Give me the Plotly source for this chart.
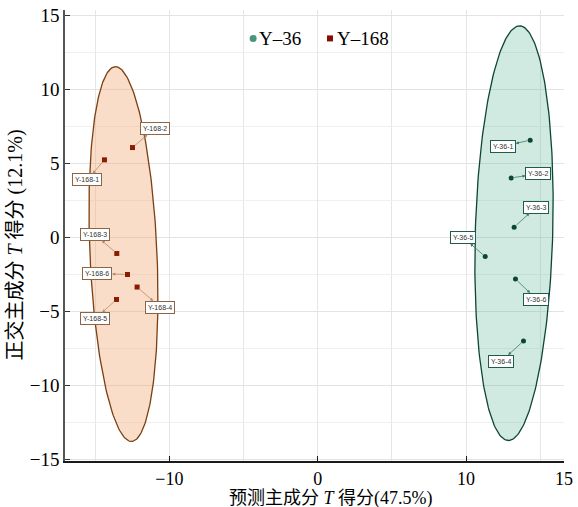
import numpy as np
import plotly.graph_objects as go

# ---------------- data ----------------
groups = ["Y-36", "Y-168"]
legend_names = ["Y–36", "Y–168"]

y36_labels = ["Y-36-1", "Y-36-2", "Y-36-3", "Y-36-4", "Y-36-5", "Y-36-6"]
y36_t = [14.32, 13.04, 13.24, 13.87, 11.29, 13.33]
y36_to = [6.57, 4.02, 0.69, -7.01, -1.30, -2.82]

y168_labels = ["Y-168-1", "Y-168-2", "Y-168-3", "Y-168-4", "Y-168-5", "Y-168-6"]
y168_t = [-14.37, -12.48, -13.54, -12.17, -13.56, -12.82]
y168_to = [5.24, 6.07, -1.09, -3.36, -4.20, -2.51]

# confidence ellipses: centre (t, to), semi-major, semi-minor, major-axis angle (deg)
y36_ellipse = [13.23, 0.28, 14.02, 2.61, 88.4]
y168_ellipse = [-13.09, -1.13, 12.68, 2.26, 92.5]

x_tickvals = [-10, 0, 10, 16.6]
x_ticktext = ["−10", "0", "10", "15"]
y_tickvals = [-15, -10, -5, 0, 5, 10, 15]

x_title = "预测主成分 <i>T</i> 得分(47.5%)"
y_title = "正交主成分 <i>T</i> 得分 (12.1%)"

# label offsets in pixels (label centre relative to point)
y36_offsets = [(-27, 6), (27, -4), (22, -20), (-22, 20), (-22, -19), (21, 20)]
y168_offsets = [(-17, 20), (22, -19), (-22, -19), (23, 20), (-21, 19), (-30, -1)]

# ---------------- styles ----------------
pt_color = {"Y-36": "#0b4635", "Y-168": "#8a1c02"}
leg_color = {"Y-36": "#4a9580", "Y-168": "#8b0a00"}
ell_fill = {"Y-36": "rgba(100,185,155,0.30)", "Y-168": "rgba(240,170,120,0.40)"}
ell_line = {"Y-36": "#0d4536", "Y-168": "#7b3f12"}
lab_border = {"Y-36": "#1f5c4a", "Y-168": "#8c6446"}
arrow_col = {"Y-36": "#3d7a66", "Y-168": "#b48a6a"}

SERIF = "Liberation Serif, Noto Sans CJK SC, serif"

fig = go.Figure()


def ellipse_xy(p, n=240):
    cx, cy, a, b, ang = p
    th = np.deg2rad(ang)
    t = np.linspace(0, 2 * np.pi, n)
    x = cx + a * np.cos(t) * np.cos(th) - b * np.sin(t) * np.sin(th)
    y = cy + a * np.cos(t) * np.sin(th) + b * np.sin(t) * np.cos(th)
    return x, y


for g, p in (("Y-168", y168_ellipse), ("Y-36", y36_ellipse)):
    ex, ey = ellipse_xy(p)
    fig.add_trace(go.Scatter(x=ex, y=ey, mode="lines", fill="toself",
                             fillcolor=ell_fill[g],
                             line=dict(color=ell_line[g], width=1.3),
                             hoverinfo="skip", showlegend=False))

fig.add_trace(go.Scatter(x=y36_t, y=y36_to, mode="markers", name="Y-36",
                         marker=dict(symbol="circle", size=5, color=pt_color["Y-36"]),
                         showlegend=False))
fig.add_trace(go.Scatter(x=y168_t, y=y168_to, mode="markers", name="Y-168",
                         marker=dict(symbol="square", size=5, color=pt_color["Y-168"]),
                         showlegend=False))

for g, labs, xs, ys, offs in (("Y-36", y36_labels, y36_t, y36_to, y36_offsets),
                              ("Y-168", y168_labels, y168_t, y168_to, y168_offsets)):
    for lab, xv, yv, (dx, dy) in zip(labs, xs, ys, offs):
        fig.add_annotation(x=xv, y=yv, ax=dx, ay=dy, text=lab,
                           showarrow=True, arrowside="start",
                           startarrowhead=2, startarrowsize=0.8,
                           arrowwidth=0.8, arrowcolor=arrow_col[g],
                           standoff=3, startstandoff=0,
                           font=dict(family="Liberation Sans, Arial", size=7, color="#333"),
                           bgcolor="white", bordercolor=lab_border[g],
                           borderwidth=1, borderpad=2)

# manual legend
fig.add_shape(type="circle", xref="paper", yref="paper", xsizemode="pixel", ysizemode="pixel",
              xanchor=0.377, yanchor=0.937, x0=-3.5, x1=3.5, y0=-3.5, y1=3.5,
              fillcolor=leg_color["Y-36"], line=dict(width=0))
fig.add_annotation(xref="paper", yref="paper", x=0.385, y=0.937, text=legend_names[0],
                   showarrow=False, xanchor="left", yanchor="middle",
                   font=dict(family=SERIF, size=19, color="black"))
fig.add_shape(type="rect", xref="paper", yref="paper", xsizemode="pixel", ysizemode="pixel",
              xanchor=0.531, yanchor=0.937, x0=-3, x1=3, y0=-3, y1=3,
              fillcolor=leg_color["Y-168"], line=dict(width=0))
fig.add_annotation(xref="paper", yref="paper", x=0.541, y=0.937, text=legend_names[1],
                   showarrow=False, xanchor="left", yanchor="middle",
                   font=dict(family=SERIF, size=19, color="black"))

# axis titles
fig.add_annotation(xref="paper", yref="paper", x=0.533, y=-0.083, text=x_title,
                   showarrow=False, xanchor="center", yanchor="middle",
                   font=dict(family=SERIF, size=18, color="black"))
fig.add_annotation(xref="paper", yref="paper", x=-0.1, y=0.478, text=y_title,
                   showarrow=False, xanchor="center", yanchor="middle", textangle=-90,
                   font=dict(family=SERIF, size=20, color="black"))

fig.update_layout(
    width=578, height=507,
    margin=dict(l=65, r=14, t=10, b=46, autoexpand=False),
    paper_bgcolor="white", plot_bgcolor="white",
    showlegend=False,
    xaxis=dict(range=[-17.03, 16.6], tickvals=x_tickvals, ticktext=x_ticktext,
               automargin=False,
               showgrid=True, gridcolor="#e6e6e6", gridwidth=1,
               minor=dict(tickvals=[-15, -5, 5, 15], showgrid=True, gridcolor="#e6e6e6", ticks=""),
               zeroline=False, showline=True, linecolor="#1a1a1a", linewidth=2,
               ticks="inside", ticklen=5, tickcolor="#1a1a1a", tickwidth=1,
               tickfont=dict(family=SERIF, size=18, color="black")),
    yaxis=dict(range=[-15.12, 15.37], tickvals=y_tickvals,
               automargin=False,
               showgrid=True, gridcolor="#e3e3e3", gridwidth=1,
               minor=dict(dtick=2.5, tick0=2.5, showgrid=True, gridcolor="#f0f0f0", ticks=""),
               zeroline=False, showline=True, linecolor="#555", linewidth=1.5,
               ticks="inside", ticklen=5, tickcolor="#333", tickwidth=1,
               tickfont=dict(family=SERIF, size=19, color="black")),
)

fig.write_html("out.html")
